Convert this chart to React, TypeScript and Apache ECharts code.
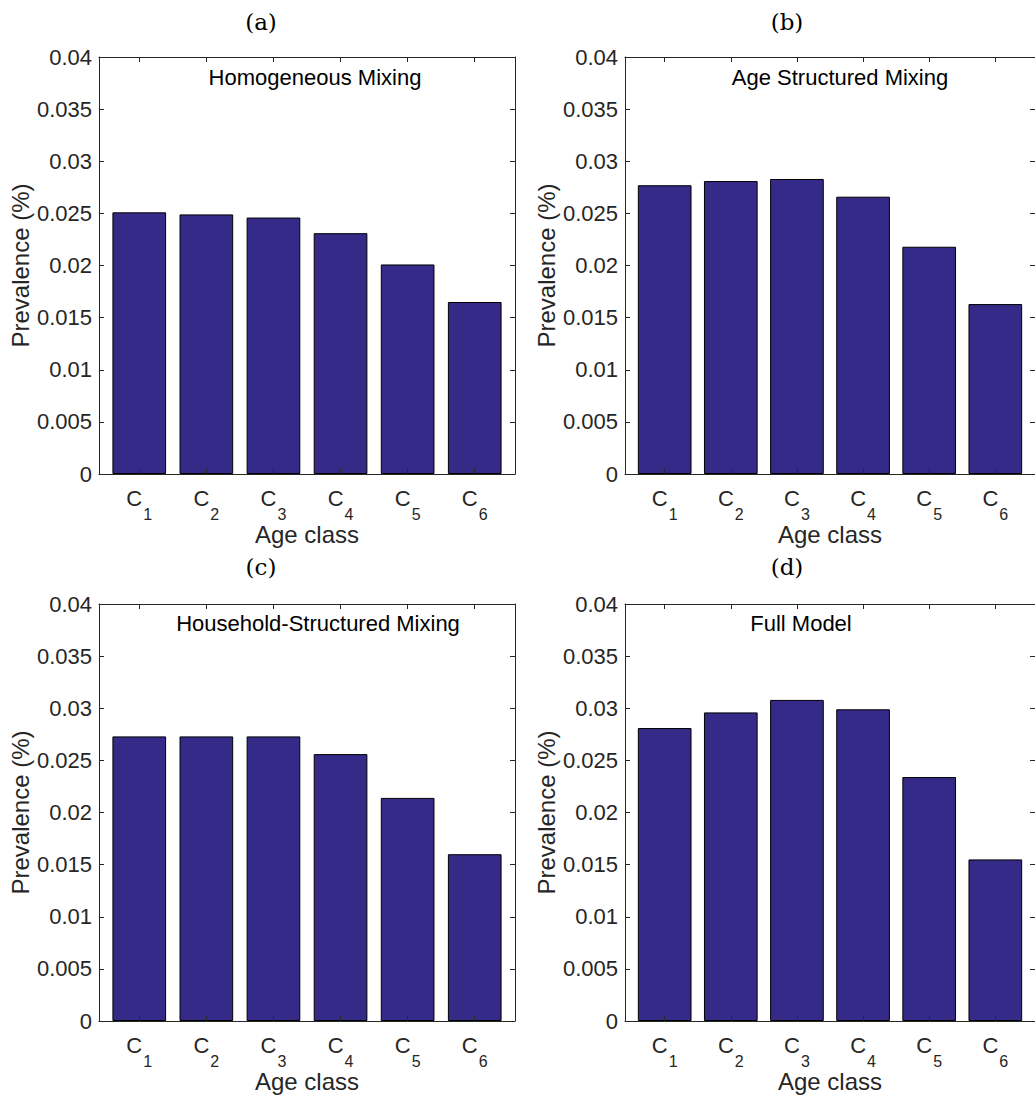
import React, { useEffect, useRef } from "react";
import * as echarts from "echarts";

// Age classes C1..C6 (subscript index shown on the x axis)
const ageClassIndex = ["1", "2", "3", "4", "5", "6"];

// Panel tags and in-plot titles
const panelTags = ["(a)", "(b)", "(c)", "(d)"];
const panelTitles = [
  "Homogeneous Mixing",
  "Age Structured Mixing",
  "Household-Structured Mixing",
  "Full Model",
];

// Prevalence (%) per age class for each mixing scenario
const homogeneousMixing = [0.0251, 0.0249, 0.0246, 0.0231, 0.0201, 0.0165];
const ageStructuredMixing = [0.0277, 0.0281, 0.0283, 0.0266, 0.0218, 0.0163];
const householdMixing = [0.0273, 0.0273, 0.0273, 0.0256, 0.0214, 0.016];
const fullModel = [0.0281, 0.0296, 0.0308, 0.0299, 0.0234, 0.0155];

const panelSeries = [homogeneousMixing, ageStructuredMixing, householdMixing, fullModel];

// Y axis range / step
const yMin = 0;
const yMax = 0.04;
const yStep = 0.005;

const AXIS_COLOR = "#262626";
const BAR_COLOR = "#352A87";
const SANS = "'Liberation Sans', Arial, Helvetica, sans-serif";
const SERIF = "'DejaVu Serif', 'Liberation Serif', serif";

// Layout of the 2x2 panels
const GRID_W = 416;
const GRID_H = 417;
const panelBoxes = [
  { left: 99, top: 57 },
  { left: 625, top: 57 },
  { left: 99, top: 604 },
  { left: 625, top: 604 },
];
const tagPos = [
  { x: 261, y: 22 },
  { x: 787, y: 22 },
  { x: 261, y: 567 },
  { x: 787, y: 567 },
];
const titlePos = [
  { x: 315, y: 77 },
  { x: 840, y: 77 },
  { x: 318, y: 623 },
  { x: 801, y: 623 },
];

const X_MIN = 0.4;
const X_MAX = 6.6;

export default function App() {
  const ref = useRef<HTMLDivElement>(null);

  useEffect(() => {
    document.body.style.margin = "0";
    if (!ref.current) return;
    const chart = echarts.init(ref.current, undefined, { renderer: "svg" });

    const xPositions = ageClassIndex.map((_, i) => i + 1);
    const unit = GRID_W / (X_MAX - X_MIN);
    const barWidth = unit * 0.8;

    const grids: any[] = [];
    const xAxes: any[] = [];
    const yAxes: any[] = [];
    const series: any[] = [];
    const graphics: any[] = [];

    panelSeries.forEach((values, p) => {
      const box = panelBoxes[p];
      grids.push({ left: box.left, top: box.top, width: GRID_W, height: GRID_H, containLabel: false });

      const lineStyle = { color: AXIS_COLOR, width: 1 };
      const baseX = {
        gridIndex: p,
        type: "value",
        min: X_MIN,
        max: X_MAX,
        splitLine: { show: false },
        axisLine: { show: true, onZero: false, lineStyle },
        axisTick: { show: true, inside: true, length: 5, customValues: xPositions, lineStyle },
        z: 5,
      };
      xAxes.push({
        ...baseX,
        position: "bottom",
        name: "Age class",
        nameLocation: "middle",
        nameGap: 47,
        nameTextStyle: { fontSize: 24, fontFamily: SANS, color: AXIS_COLOR },
        axisLabel: {
          show: true,
          customValues: xPositions,
          margin: 13,
          formatter: (v: number) => `{c|C}{s|${ageClassIndex[Math.round(v) - 1]}}`,
          rich: {
            c: { fontSize: 22, lineHeight: 22, fontFamily: SANS, color: AXIS_COLOR, verticalAlign: "top" },
            s: {
              fontSize: 16,
              lineHeight: 16,
              fontFamily: SANS,
              color: AXIS_COLOR,
              verticalAlign: "top",
              padding: [19, 0, 0, 1],
            },
          },
        },
      });
      xAxes.push({ ...baseX, position: "top", axisLabel: { show: false } });

      const baseY = {
        gridIndex: p,
        type: "value",
        min: yMin,
        max: yMax,
        interval: yStep,
        splitLine: { show: false },
        axisLine: { show: true, onZero: false, lineStyle },
        axisTick: { show: true, inside: true, length: 5, lineStyle },
        z: 5,
      };
      yAxes.push({
        ...baseY,
        position: "left",
        name: "Prevalence (%)",
        nameLocation: "middle",
        nameGap: 67,
        nameRotate: 90,
        nameTextStyle: { fontSize: 24, fontFamily: SANS, color: AXIS_COLOR },
        axisLabel: {
          show: true,
          margin: 7,
          fontSize: 22,
          fontFamily: SANS,
          color: AXIS_COLOR,
          formatter: (v: number) => String(parseFloat(v.toFixed(4))),
        },
      });
      yAxes.push({ ...baseY, position: "right", axisLabel: { show: false } });

      series.push({
        type: "bar",
        xAxisIndex: 2 * p,
        yAxisIndex: 2 * p,
        barWidth,
        data: values.map((v, i) => [xPositions[i], v]),
        itemStyle: { color: BAR_COLOR, borderColor: "#000", borderWidth: 1 },
        z: 2,
      });

      graphics.push({
        type: "text",
        x: tagPos[p].x,
        y: tagPos[p].y,
        style: {
          text: panelTags[p],
          font: `23px ${SERIF}`,
          fill: "#000",
          align: "center",
          verticalAlign: "middle",
          textAlign: "center",
          textVerticalAlign: "middle",
        },
      });
      graphics.push({
        type: "text",
        x: titlePos[p].x,
        y: titlePos[p].y,
        z: 10,
        style: {
          text: panelTitles[p],
          font: `22px ${SANS}`,
          fill: "#000",
          align: "center",
          verticalAlign: "middle",
          textAlign: "center",
          textVerticalAlign: "middle",
        },
      });
    });

    chart.setOption({
      animation: false,
      backgroundColor: "#ffffff",
      grid: grids,
      xAxis: xAxes,
      yAxis: yAxes,
      series,
      graphic: graphics,
    });

    return () => chart.dispose();
  }, []);

  return <div ref={ref} style={{ width: 1035, height: 1097 }} />;
}
